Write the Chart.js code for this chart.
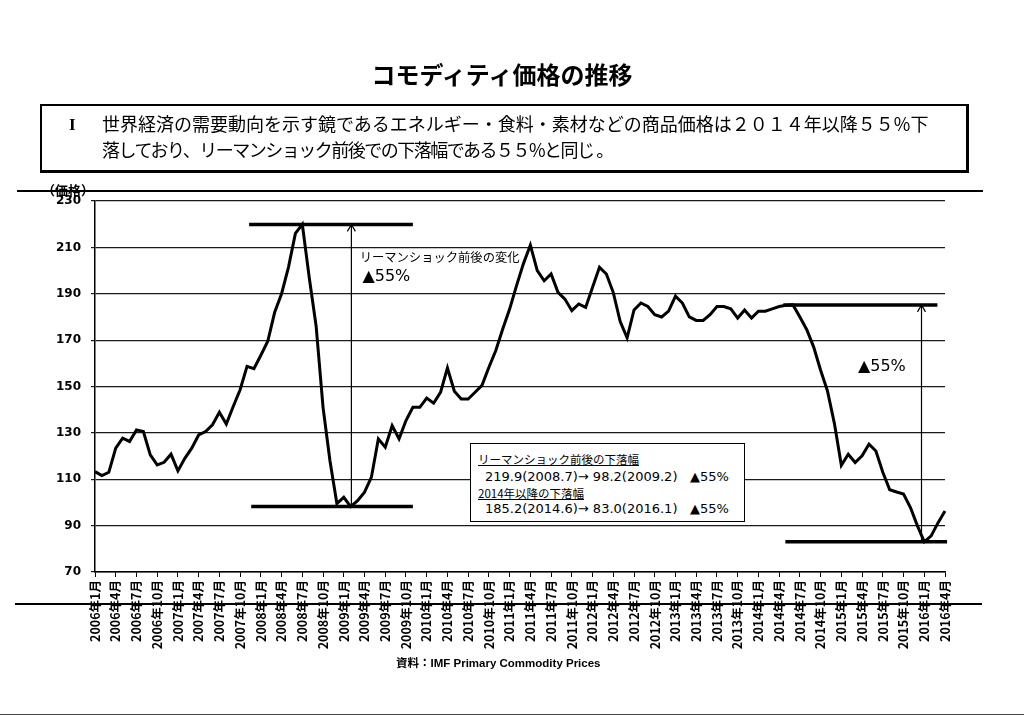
<!DOCTYPE html>
<html lang="ja">
<head>
<meta charset="utf-8">
<title>コモディティ価格の推移</title>
<script src="https://cdn.jsdelivr.net/npm/chart.js@4.4.1/dist/chart.umd.min.js"></script>
<style>
  body { margin: 0; width: 1024px; height: 724px; background: #fff; position: relative; overflow: hidden;
         font-family: "Noto Sans CJK JP", sans-serif; color: #000; }
  #chart { position: absolute; left: 0; top: 0; }
  .title { position: absolute; left: 0; width: 1004px; top: 60px; text-align: center;
           font-size: 24px; font-weight: bold; line-height: 28px; }
  .lead { position: absolute; left: 40px; top: 104px; width: 924px; height: 64px;
          border: 2px solid #000; border-right-width: 3px; border-bottom-width: 3px; }
  .lead .num { position: absolute; left: 27px; top: 5px; font-family: "Liberation Serif", serif;
               font-weight: bold; font-size: 17px; line-height: 27px; }
  .lead .txt { position: absolute; left: 60px; top: 4px; font-size: 18px; line-height: 26px; white-space: pre; }
  .lead .tight { letter-spacing: -1.5px; }
  .unit { position: absolute; left: 42px; top: 180px; font-size: 13px; font-weight: bold; }
  .rule { position: absolute; background: #000; }
  .note { position: absolute; left: 470px; top: 443px; width: 273px; height: 77px; background: #fff;
          border: 1.5px solid #000; font-family: "DejaVu Sans", sans-serif; font-size: 13px; }
  .note div { position: absolute; white-space: nowrap; line-height: 16px; }
  .note .h { left: 7px; font-family: "Noto Sans CJK JP", sans-serif; font-size: 11.5px; text-decoration: underline; }
  .note .v { left: 14px; }
  .note .p { left: 219px; }
  .src { position: absolute; left: 396px; top: 654px; font-size: 11.5px; font-weight: bold;
         font-family: "Liberation Sans", "Noto Sans CJK JP", sans-serif; }
</style>
</head>
<body>
<canvas id="chart" width="1024" height="724"></canvas>

<div class="title">コモディティ価格の推移</div>
<div class="lead">
  <div class="num">I</div>
  <div class="txt">世界経済の需要動向を示す鏡であるエネルギー・食料・素材などの商品価格は２０１４年以降５５%下
<span class="tight">落しており、リーマンショック前後での下落幅である５５%と同じ 。</span></div>
</div>
<div class="unit">（価格）</div>
<div class="rule" style="left:17px; top:190px; width:966px; height:1.5px;"></div>
<div class="rule" style="left:15px; top:603px; width:967px; height:1.5px;"></div>
<div class="rule" style="left:0; top:714px; width:1024px; height:1px; background:#444;"></div>

<div class="note">
  <div class="h" style="top:7px;">リーマンショック前後の下落幅</div>
  <div class="v" style="top:25px;">219.9(2008.7)→ 98.2(2009.2)</div>
  <div class="p" style="top:25px;">▲55%</div>
  <div class="h" style="top:41px;">2014年以降の下落幅</div>
  <div class="v" style="top:57px;">185.2(2014.6)→ 83.0(2016.1)</div>
  <div class="p" style="top:57px;">▲55%</div>
</div>
<div class="src">資料：IMF Primary Commodity Prices</div>

<script>
// ── Data: IMF primary commodity price index, monthly ──
const years = ['2006', '2007', '2008', '2009', '2010', '2011', '2012', '2013', '2014', '2015', '2016'];
const price2006 = [113.3, 111.6, 113.0, 123.4, 127.7, 126.3, 131.3, 130.6, 120.5, 116.2, 117.3, 120.8];
const price2007 = [113.6, 119.0, 123.4, 129.1, 130.6, 133.5, 138.9, 133.8, 141.4, 148.6, 158.7, 157.7];
const price2008 = [163.5, 169.5, 182.0, 190.0, 201.5, 216.0, 219.9, 197.0, 176.0, 141.0, 118.0, 99.5];
const price2009 = [102.2, 98.2, 100.8, 104.4, 110.9, 127.4, 123.8, 133.1, 127.4, 135.3, 141.0, 141.0];
const price2010 = [145.0, 142.8, 147.5, 158.0, 148.0, 144.6, 144.6, 147.5, 150.5, 158.3, 165.5, 174.8];
const price2011 = [183.4, 193.5, 203.0, 211.0, 200.0, 195.6, 198.5, 190.6, 187.7, 182.7, 185.6, 184.1];
const price2012 = [192.8, 201.4, 198.5, 190.5, 178.0, 171.0, 183.0, 186.0, 184.5, 181.0, 180.0, 182.5];
const price2013 = [189.0, 186.0, 180.0, 178.5, 178.5, 181.0, 184.5, 184.5, 183.5, 179.5, 183.0, 179.5];
const price2014 = [182.5, 182.5, 183.5, 184.5, 185.0, 185.2, 180.0, 174.5, 167.0, 157.0, 148.0, 134.0];
const price2015 = [116.0, 120.8, 117.2, 120.1, 125.1, 122.2, 113.0, 105.5, 104.5, 103.6, 97.8, 90.0];
const price2016 = [83.0, 85.6, 91.3, 96.3];

// Peak / trough of the two falls (from the note box)
const dropFrom = [219.9, 185.2];
const dropTo = [98.2, 83.0];
const dropLabel = '▲55%';

const yTicks = [70, 90, 110, 130, 150, 170, 190, 210, 230];

const series = [price2006, price2007, price2008, price2009, price2010, price2011,
                price2012, price2013, price2014, price2015, price2016];
const labels = [];
const values = [];
series.forEach((yr, i) => {
  yr.forEach((v, m) => {
    labels.push(years[i] + '年' + (m + 1) + '月');
    values.push(v);
  });
});

// ── Annotation lines / arrows drawn through the scales ──
const annotate = {
  id: 'annotate',
  afterDatasetsDraw(chart) {
    const { ctx, scales: { x, y } } = chart;
    const px = i => x.getPixelForValue(i);

    function level(i0, i1, v) {
      ctx.beginPath();
      ctx.moveTo(px(i0), y.getPixelForValue(v));
      ctx.lineTo(px(i1), y.getPixelForValue(v));
      ctx.stroke();
    }
    function arrow(i, vLow, vHigh) {
      const ax = px(i);
      const top = y.getPixelForValue(vHigh);
      ctx.beginPath();
      ctx.moveTo(ax, y.getPixelForValue(vLow));
      ctx.lineTo(ax, top);
      ctx.moveTo(ax - 4, top + 7);
      ctx.lineTo(ax, top);
      ctx.lineTo(ax + 4, top + 7);
      ctx.stroke();
    }

    ctx.save();
    ctx.strokeStyle = '#000';
    ctx.lineWidth = 3.5;
    level(22.3, 46, dropFrom[0]);
    level(22.6, 46, dropTo[0]);
    level(99.6, 121.9, dropFrom[1]);
    level(99.9, 123.3, dropTo[1]);

    ctx.lineWidth = 1.2;
    arrow(37.1, dropTo[0], dropFrom[0]);
    arrow(119.6, dropTo[1], dropFrom[1]);

    ctx.fillStyle = '#000';
    ctx.textBaseline = 'middle';
    ctx.textAlign = 'left';
    ctx.font = '12.3px "Noto Sans CJK JP"';
    ctx.fillText('リーマンショック前後の変化', px(38.3), y.getPixelForValue(205.9));
    ctx.font = '16px "DejaVu Sans"';
    ctx.fillText(dropLabel, px(38.7), y.getPixelForValue(197.3));
    ctx.fillText(dropLabel, px(110.4), y.getPixelForValue(158.6));
    ctx.restore();
  }
};

new Chart(document.getElementById('chart'), {
  type: 'line',
  data: {
    labels: labels,
    datasets: [{
      data: values,
      borderColor: '#000',
      borderWidth: 3,
      pointRadius: 0,
      tension: 0,
      fill: false
    }]
  },
  options: {
    responsive: false,
    animation: false,
    layout: { padding: { left: 0, right: 79, top: 201, bottom: 0 } },
    plugins: {
      legend: { display: false },
      tooltip: { enabled: false }
    },
    scales: {
      x: {
        offset: false,
        grid: { drawOnChartArea: false, drawTicks: true, tickLength: 5, color: '#000', lineWidth: 1 },
        border: { display: true, color: '#000', width: 1.5 },
        ticks: {
          autoSkip: false,
          minRotation: 90,
          maxRotation: 90,
          padding: 3,
          color: '#000',
          font: { family: '"Noto Sans CJK JP"', size: 12.5, weight: 'bold' }
        },
        afterBuildTicks: scale => { scale.ticks = scale.ticks.filter((t, i) => i % 3 === 0); },
        afterFit: scale => { scale.height = 152; }
      },
      y: {
        min: 70,
        max: 230,
        afterBuildTicks: scale => { scale.ticks = yTicks.map(v => ({ value: v })); },
        grid: { color: '#1a1a1a', lineWidth: 1.2, tickLength: 4 },
        border: { display: true, color: '#000', width: 1.5 },
        ticks: {
          padding: 10,
          color: '#000',
          font: { family: '"DejaVu Sans"', size: 12, weight: 'bold' }
        },
        afterFit: scale => { scale.width = 95; }
      }
    }
  },
  plugins: [annotate]
});
</script>
</body>
</html>
